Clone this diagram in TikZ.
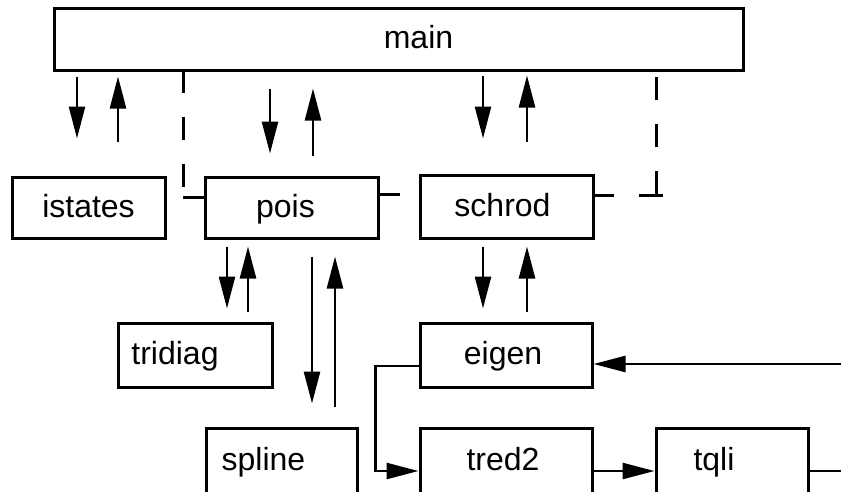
\documentclass[tikz,border=0pt]{standalone}
\usepackage{fontspec}
\setmainfont{Liberation Sans}
\usetikzlibrary{arrows.meta,calc}
\tikzset{
  box/.style={draw, line width=3pt, rectangle, inner sep=0pt, text height=24pt, text depth=5pt, font=\fontsize{32}{38}\selectfont},
  arr/.style={line width=2.6pt, -{Triangle[length=32pt,width=16pt]}},
  ln/.style={line width=2.6pt},
  dashln/.style={line width=3pt, dash pattern=on 23pt off 24pt},
}
\begin{document}
\begin{tikzpicture}[x=1pt,y=-1pt]
\useasboundingbox (0,0) rectangle (841,491);
\clip (0,0) rectangle (841,491);
% boxes
\node[box, minimum width=689pt, minimum height=62pt] (main) at (398.5,39) {\hspace*{40pt}main};
\node[box, minimum width=153pt, minimum height=61pt] (istates) at (88.5,207.5) {istates};
\node[box, minimum width=173pt, minimum height=61pt] (pois) at (291.5,207.5) {pois\hspace*{12pt}};
\node[box, minimum width=173pt, minimum height=63pt] (schrod) at (506.5,206.5) {schrod\hspace*{8pt}};
\node[box, minimum width=154pt, minimum height=64pt] (tridiag) at (195,355) {tridiag\hspace*{40pt}};
\node[box, minimum width=172pt, minimum height=64pt] (eigen) at (506,355) {eigen\hspace*{6pt}};
\node[box, minimum width=151pt, minimum height=65pt] (spline) at (281.5,460.5) {spline\hspace*{36pt}};
\node[box, minimum width=172pt, minimum height=65pt] (tred2) at (506,460.5) {tred2\hspace*{6pt}};
\node[box, minimum width=152pt, minimum height=65pt] (tqli) at (732,460.5) {tqli\hspace*{36pt}};
% main <-> istates
\draw[arr] ($(istates.north)+(-11.5,-99)$) -- ($(istates.north)+(-11.5,-37)$);
\draw[arr] ($(istates.north)+(29.5,-34)$) -- ($(istates.north)+(29.5,-99)$);
% main <-> pois
\draw[arr] ($(pois.north)+(-21.5,-87)$) -- ($(pois.north)+(-21.5,-22)$);
\draw[arr] ($(pois.north)+(21.5,-20)$) -- ($(pois.north)+(21.5,-87)$);
% main <-> schrod
\draw[arr] ($(schrod.north)+(-23.5,-98)$) -- ($(schrod.north)+(-23.5,-35)$);
\draw[arr] ($(schrod.north)+(20.5,-32)$) -- ($(schrod.north)+(20.5,-98)$);
% pois <-> tridiag
\draw[arr] ($(tridiag.north)+(32,-75)$) -- ($(tridiag.north)+(32,-13)$);
\draw[arr] ($(tridiag.north)+(53,-10)$) -- ($(tridiag.north)+(53,-75)$);
% pois <-> spline
\draw[arr] ($(spline.north)+(30.5,-170)$) -- ($(spline.north)+(30.5,-23)$);
\draw[arr] ($(spline.north)+(53.5,-20)$) -- ($(spline.north)+(53.5,-170)$);
% schrod <-> eigen
\draw[arr] ($(eigen.north)+(-23,-75)$) -- ($(eigen.north)+(-23,-13)$);
\draw[arr] ($(eigen.north)+(21,-10)$) -- ($(eigen.north)+(21,-75)$);
% eigen -> tred2 -> tqli -> eigen
\coordinate (eW) at ($(eigen.west)+(-43,11)$);
\draw[arr] ($(eigen.west)+(0,11)$) -- (eW) |- ($(tred2.west)+(0,10.5)$);
\draw[arr] ($(tred2.east)+(0,10.5)$) -- ($(tqli.west)+(0,10.5)$);
\coordinate (qR) at (845,471);
\coordinate (eR) at (845,364);
\draw[ln] ($(tqli.east)+(0,10.5)$) -- (qR);
\draw[arr] (eR) -- (eigen.east |- eR);
% dashed connections
\coordinate (dL) at (183,70);
\coordinate (dLc) at (183,197);
\draw[dashln] (dL) -- (183,188);
\draw[line width=3pt] (dLc) -- (pois.west |- dLc);
\coordinate (pR) at (400,194);
\draw[line width=3pt] (pois.east |- pR) -- (pR);
\coordinate (sR) at (614,195);
\draw[line width=3pt] (schrod.east |- sR) -- (sR);
\coordinate (dRt) at (656,77);
\coordinate (dRb) at (656,195);
\draw[dashln] (dRt) -- (dRb);
\draw[line width=3pt] (639,195) -- (663,195);
\end{tikzpicture}
\end{document}
